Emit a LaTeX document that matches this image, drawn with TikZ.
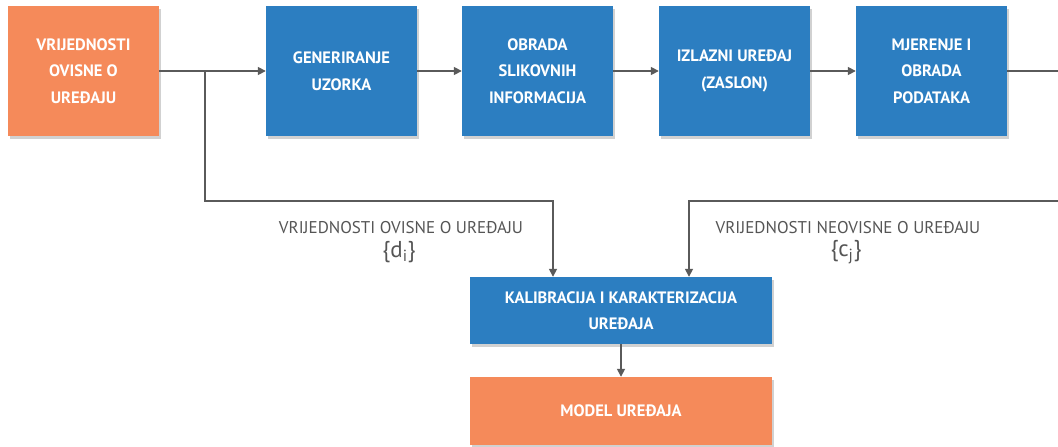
\documentclass[tikz,border=0pt]{standalone}
\usepackage{fontspec}
\setmainfont{PT Sans}
\usetikzlibrary{arrows.meta,shadows}
\definecolor{boxorange}{HTML}{F58A5A}
\definecolor{boxblue}{HTML}{2C7EC1}
\definecolor{linegray}{HTML}{5A5A5A}
\definecolor{textgray}{HTML}{555555}
\begin{document}
\begin{tikzpicture}[x=1pt,y=-1pt,
  box/.style={draw=none, minimum height=130pt, minimum width=151pt, inner sep=2pt,
    text=white, align=center, font=\fontsize{16.5}{26.5}\selectfont\bfseries,
    drop shadow={shadow xshift=2pt, shadow yshift=-3pt, fill=black, opacity=0.18}},
  obox/.style={box, fill=boxorange},
  bbox/.style={box, fill=boxblue},
  conn/.style={draw=linegray, line width=1.6pt},
  arr/.style={conn, -{Triangle[length=8pt,width=8pt]}},
  lab/.style={text=textgray, font=\fontsize{17}{18}\selectfont, inner sep=0pt},
  brace/.style={text=textgray, font=\fontsize{23}{25}\selectfont, inner sep=0pt}]
\useasboundingbox (0,0) rectangle (1058,447);
\node[obox] (src) at (83.5,71) {VRIJEDNOSTI\\OVISNE O\\UREĐAJU};
\node[bbox] (gen) at (341.5,71) {GENERIRANJE\\UZORKA};
\node[bbox] (obr) at (537.5,71) {OBRADA\\SLIKOVNIH\\INFORMACIJA};
\node[bbox] (izl) at (734.5,71) {IZLAZNI UREĐAJ\\(ZASLON)};
\node[bbox] (mje) at (931.5,71) {MJERENJE I\\OBRADA\\PODATAKA};
\node[bbox, minimum width=302pt, minimum height=67pt] (kal) at (621,310.5) {KALIBRACIJA I KARAKTERIZACIJA\\UREĐAJA};
\node[obox, minimum width=302pt, minimum height=68pt] (mod) at (621,411) {MODEL UREĐAJA};
\coordinate (br) at (205,71);
\coordinate (d1) at (553,201);
\coordinate (c1) at (689,201);
\coordinate (re) at (1060,201);
\coordinate (te) at (1060,71);
\node[lab] (ldl) at (401,228) {VRIJEDNOSTI OVISNE O UREĐAJU};
\node[brace] (ldi) at (399,252) {\{d\textsubscript{i}\}};
\node[lab] (lcl) at (848,228) {VRIJEDNOSTI NEOVISNE O UREĐAJU};
\node[brace] (lcj) at (846,252) {\{c\textsubscript{j}\}};
\draw[arr] (src.east) -- (gen.west);
\draw[arr] (gen.east) -- (obr.west);
\draw[arr] (obr.east) -- (izl.west);
\draw[arr] (izl.east) -- (mje.west);
\draw[conn] (mje.east) -- (te);
\draw[arr] (br) |- (d1) -- (d1 |- kal.north);
\draw[arr] (re) -- (c1) -- (c1 |- kal.north);
\draw[arr] (kal.south) -- (mod.north);
\end{tikzpicture}
\end{document}
